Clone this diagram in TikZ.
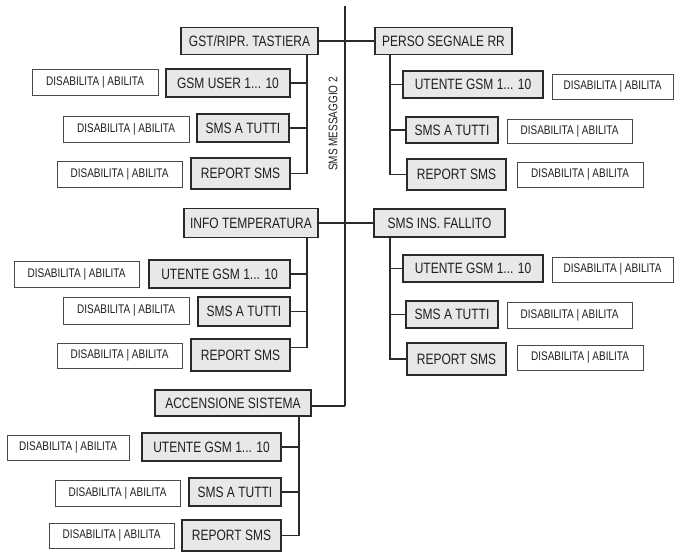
\documentclass[tikz,border=0pt]{standalone}
\usepackage{fontspec}
\setmainfont{Liberation Sans}[FakeStretch=0.8]
\usetikzlibrary{calc}
\definecolor{boxgray}{HTML}{E8E8E8}
\definecolor{linecol}{HTML}{2A2A2A}
\newcommand\gbx[5]{\node[gbox,minimum width=#3pt,minimum height=#4pt] (#1) at (#2) {#5};}
\newcommand\wbx[5]{\node[wbox,minimum width=#3pt,minimum height=#4pt] (#1) at (#2) {#5};}
\begin{document}
\begin{tikzpicture}[x=1pt,y=-1pt,
  gbox/.style={draw=linecol, line width=1.1pt, fill=boxgray, inner sep=0pt,
    font=\fontsize{15}{17}\selectfont, text=black!88},
  wbox/.style={draw=linecol!85, line width=0.8pt, fill=white, inner sep=0pt,
    font=\fontsize{12.5}{14}\selectfont, text=black!88},
  conn/.style={draw=linecol, line width=1.3pt}]
\useasboundingbox (0,0) rectangle (677,553);

% ---------- group 1 (top left)
\gbx{g1}{249.5,41}{137}{27}{GST/RIPR. TASTIERA}
\gbx{g1a}{228,83}{124}{28}{GSM USER 1... 10}
\wbx{g1aw}{95,82}{126}{26}{DISABILITA | ABILITA}
\gbx{g1b}{243,128}{92}{28}{SMS A TUTTI}
\wbx{g1bw}{126,129}{126}{26}{DISABILITA | ABILITA}
\gbx{g1c}{240.5,173.5}{99}{31}{REPORT SMS}
\wbx{g1cw}{119.5,174}{125}{26}{DISABILITA | ABILITA}

% ---------- group 2 (top right)
\gbx{r1}{443.5,41}{137}{27}{PERSO SEGNALE RR}
\gbx{r1a}{473,84.5}{140}{27}{UTENTE GSM 1... 10}
\wbx{r1aw}{612.5,86.5}{121}{25}{DISABILITA | ABILITA}
\gbx{r1b}{452,130}{92}{26}{SMS A TUTTI}
\wbx{r1bw}{569.5,131}{125}{24}{DISABILITA | ABILITA}
\gbx{r1c}{456.5,174.5}{99}{31}{REPORT SMS}
\wbx{r1cw}{580,174.5}{126}{25}{DISABILITA | ABILITA}

% ---------- group 3 (middle left)
\gbx{m1}{251,223}{134}{29}{INFO TEMPERATURA}
\gbx{m1a}{219.5,274}{141}{28}{UTENTE GSM 1... 10}
\wbx{m1aw}{76.5,274}{125}{26}{DISABILITA | ABILITA}
\gbx{m1b}{244,311.5}{92}{29}{SMS A TUTTI}
\wbx{m1bw}{126,310.5}{126}{27}{DISABILITA | ABILITA}
\gbx{m1c}{240.5,355}{99}{32}{REPORT SMS}
\wbx{m1cw}{119.5,355.5}{125}{25}{DISABILITA | ABILITA}

% ---------- group 4 (middle right)
\gbx{n1}{439.5,223}{131}{28}{SMS INS. FALLITO}
\gbx{n1a}{473,268.5}{140}{27}{UTENTE GSM 1... 10}
\wbx{n1aw}{612.5,269.5}{121}{25}{DISABILITA | ABILITA}
\gbx{n1b}{452,314.5}{92}{27}{SMS A TUTTI}
\wbx{n1bw}{569.5,315}{125}{26}{DISABILITA | ABILITA}
\gbx{n1c}{456.5,359}{99}{32}{REPORT SMS}
\wbx{n1cw}{580,357.5}{126}{25}{DISABILITA | ABILITA}

% ---------- group 5 (bottom left)
\gbx{a1}{233,403}{156}{26}{ACCENSIONE SISTEMA}
\gbx{a1a}{211.5,447}{139}{28}{UTENTE GSM 1... 10}
\wbx{a1aw}{68,447.5}{122}{25}{DISABILITA | ABILITA}
\gbx{a1b}{235,492}{92}{28}{SMS A TUTTI}
\wbx{a1bw}{117.5,493}{125}{26}{DISABILITA | ABILITA}
\gbx{a1c}{231.5,535.5}{99}{31}{REPORT SMS}
\wbx{a1cw}{111.5,535.5}{125}{25}{DISABILITA | ABILITA}

% ---------- rotated label
\node[rotate=90, inner sep=0pt, font=\fontsize{12.5}{14}\selectfont, text=black!88] (lbl) at (333,124) {SMS MESSAGGIO 2};

% ---------- main trunk
\coordinate (mtop) at (345,6);
\coordinate (mbot) at (345,406);
\draw[conn] (mtop) -- (mbot);
\draw[conn] (g1.east) -- (r1.west);
\draw[conn] (m1.east) -- (n1.west);
\draw[conn] (a1.east |- mbot) -- (mbot);

% ---------- spines
\coordinate (sL) at (307,0);
\coordinate (sR) at (390,0);
\coordinate (sA) at (299,0);

\draw[conn] (g1.south -| sL) |- (g1c.east);
\draw[conn] (g1a.east) -- (g1a.east -| sL);
\draw[conn] (g1b.east) -- (g1b.east -| sL);

\draw[conn] (r1.south -| sR) |- (r1c.west);
\draw[conn] (r1a.west) -- (r1a.west -| sR);
\draw[conn] (r1b.west) -- (r1b.west -| sR);

\coordinate (m1cc) at ($(m1c.north east)!0.28!(m1c.south east)$);
\draw[conn] (m1.south -| sL) |- (m1cc);
\draw[conn] (m1a.east) -- (m1a.east -| sL);
\draw[conn] (m1b.east) -- (m1b.east -| sL);

\draw[conn] (n1.south -| sR) |- (n1c.west);
\draw[conn] (n1a.west) -- (n1a.west -| sR);
\draw[conn] (n1b.west) -- (n1b.west -| sR);

\draw[conn] (a1.south -| sA) |- (a1c.east);
\draw[conn] (a1a.east) -- (a1a.east -| sA);
\draw[conn] (a1b.east) -- (a1b.east -| sA);
\end{tikzpicture}
\end{document}
